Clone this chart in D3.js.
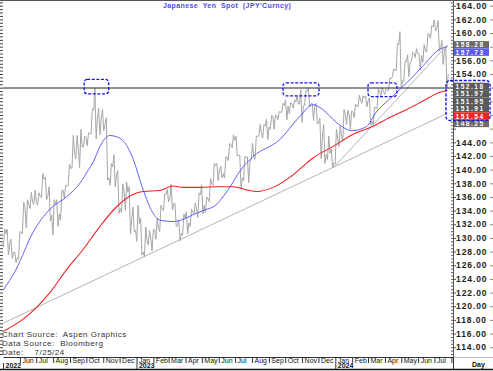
<!DOCTYPE html>
<html>
<head>
<meta charset="utf-8">
<script src="https://cdn.jsdelivr.net/npm/d3@7"></script>
<style>
  body { margin: 0; background: #fff; }
  svg { display: block; font-family: "Liberation Sans", Arial, sans-serif; }
  .pre { white-space: pre; }
</style>
</head>
<body>
<script>
// weekly USD/JPY bars, week of May 2 2022 .. week of Jul 22 2024
const wkHigh = [
  // 2022
  131.3, 131.3, 129.8, 127.9, 130.9, 135.2, 135.6, 136.7, 137.0, 136.6, 139.4, 138.9, 137.5,
  135.6, 135.6, 137.0, 137.7, 140.8, 145.0, 145.0, 145.9, 144.9, 145.4, 148.9, 151.95, 149.0, 148.8,
  147.6, 140.9, 142.2, 139.9, 137.9, 138.2, 137.5, 134.5,
  // 2023
  134.8, 132.9, 131.6, 131.1, 131.2, 132.9, 134.8, 136.5, 137.1, 137.9, 135.1, 132.6, 133.5,
  133.8, 134.2, 135.1, 136.6, 137.8, 136.0, 138.7, 140.9, 140.9, 140.5, 141.9, 143.8, 145.1,
  144.9, 142.1, 141.9, 141.9, 143.9, 144.9, 146.6, 146.6, 147.4, 147.9, 148.0, 148.5, 149.7,
  150.2, 149.8, 150.2, 150.8, 151.7, 151.6, 151.91, 149.7, 149.7, 147.5, 146.6, 144.9, 143.0,
  // 2024
  145.9, 146.4, 148.8, 148.7, 148.6, 149.6, 150.9, 150.8, 150.8, 150.5, 149.2, 151.8, 151.97,
  151.8, 153.4, 154.7, 158.4, 160.2, 155.9, 156.8, 157.2, 157.7, 157.0, 158.3, 159.9, 161.1,
  161.9, 161.8, 158.9, 157.9
];
const wkLow = [
  128.6, 127.5, 127.0, 126.4, 126.9, 130.6, 131.5, 134.3, 134.9, 134.8, 135.9, 135.6, 132.5,
  130.4, 131.7, 132.6, 135.8, 137.6, 140.2, 141.6, 140.3, 143.3, 143.5, 145.2, 144.5, 145.1, 145.7,
  138.5, 137.7, 137.5, 133.6, 133.7, 134.0, 130.6, 130.9,
  129.5, 127.5, 127.2, 129.0, 128.1, 129.8, 130.9, 134.0, 135.3, 134.1, 131.6, 129.6, 130.4,
  130.6, 131.7, 133.5, 133.0, 133.5, 133.7, 135.3, 137.7, 138.4, 138.8, 138.8, 141.3, 143.2,
  142.0, 137.2, 138.4, 138.1, 141.5, 141.5, 144.9, 144.6, 144.4, 145.9, 145.9, 147.3, 148.4,
  147.3, 148.2, 149.0, 149.6, 146.9, 149.4, 149.2, 147.2, 146.7, 141.6, 140.9, 141.5, 140.25,
  140.8, 143.4, 144.3, 146.6, 145.9, 147.6, 149.2, 149.7, 149.2, 146.5, 146.6, 148.9, 150.8,
  151.0, 151.6, 153.6, 154.5, 151.9, 152.9, 153.6, 155.9, 156.4, 154.6, 155.7, 157.2, 159.2,
  160.3, 157.4, 155.4, 151.9
];
const wkClose = [
  130.6, 129.2, 127.9, 127.1, 130.9, 134.4, 134.9, 135.2, 135.2, 136.1, 138.6, 136.1, 133.3,
  135.0, 133.5, 137.0, 137.6, 140.2, 142.5, 142.9, 143.3, 144.7, 145.3, 148.7, 147.6, 147.5, 146.6,
  138.8, 140.4, 139.2, 134.3, 136.6, 136.7, 132.8, 131.1,
  132.1, 127.9, 129.6, 129.9, 131.2, 131.4, 134.2, 136.4, 135.8, 135.0, 131.8, 130.7, 132.9,
  132.2, 133.8, 134.2, 136.3, 134.8, 135.7, 137.9, 140.6, 139.9, 139.4, 141.8, 143.7, 144.3,
  142.1, 138.8, 141.8, 141.2, 141.8, 144.9, 145.4, 146.4, 146.2, 147.8, 147.9, 148.4, 149.4,
  149.3, 149.6, 149.9, 149.6, 149.4, 151.5, 149.6, 149.4, 146.8, 144.9, 142.2, 142.4, 141.0,
  144.6, 144.9, 148.1, 148.1, 148.4, 149.3, 150.2, 150.5, 150.1, 147.1, 149.0, 151.4, 151.4,
  151.6, 153.3, 154.6, 158.3, 153.0, 155.8, 155.7, 157.0, 157.0, 156.7, 157.4, 159.8, 160.9,
  160.7, 157.9, 157.5, 153.9
];

// moving averages
const blueDates = ["2022-05-01","2022-05-25","2022-06-25","2022-07-26","2022-08-27","2022-09-20","2022-10-05",
  "2022-10-13","2022-10-26","2022-11-13","2022-11-26","2022-12-15","2022-12-26","2023-01-13","2023-01-31",
  "2023-02-13","2023-03-09","2023-03-27","2023-04-15","2023-05-10","2023-05-21","2023-06-22","2023-07-10",
  "2023-08-03","2023-09-21","2023-10-28","2023-11-21","2023-12-09","2024-01-03","2024-02-01","2024-02-27",
  "2024-03-16","2024-04-09","2024-05-11","2024-06-09","2024-07-10","2024-07-25"];
const blueValues = [122.3, 125.4, 130.8, 134.2, 136.1, 138.1, 140.0,
  141.0, 143.4, 145.0, 144.8, 143.4, 141.5, 137.1, 133.7,
  132.6, 132.4, 132.7, 133.4, 134.2, 134.5, 137.5, 139.8,
  141.9, 144.4, 147.8, 149.5, 148.8, 146.9, 145.7, 146.3,
  148.4, 150.3, 152.7, 155.1, 157.6, 158.0];

const redDates = ["2022-05-01","2022-06-07","2022-07-26","2022-08-26","2022-09-25","2022-10-26","2022-11-26",
  "2022-12-26","2023-01-13","2023-02-13","2023-03-09","2023-03-27","2023-04-28","2023-05-29","2023-06-27",
  "2023-07-28","2023-08-10","2023-09-09","2023-10-10","2023-11-10","2023-11-21","2023-12-28","2024-02-01",
  "2024-03-09","2024-04-09","2024-05-11","2024-06-09","2024-07-10","2024-07-25"];
const redValues = [116.3, 118.1, 122.0, 125.4, 128.3, 131.7, 134.6,
  136.4, 136.8, 136.95, 137.6, 137.4, 137.4, 137.5, 137.5,
  136.9, 136.8, 137.4, 138.9, 141.0, 141.7, 143.4, 145.1,
  146.3, 147.6, 148.8, 150.0, 151.3, 151.6];

// trend lines and level
const trendStart = ["2022-05-01", "2023-12-28"];
const trendStartValue = [117.5, 140.25];
const trendEnd = ["2024-07-25", "2024-07-25"];
const trendEndValue = [148.25, 158.28];
const levelValue = 151.95;

// dashed boxes around the tops
const boxFrom = ["2022-09-27", "2023-09-27", "2024-03-01"];
const boxTo = ["2022-11-11", "2023-12-02", "2024-04-23"];
const boxHigh = [153.2, 152.7, 152.7];
const boxLow = [151.1, 150.8, 150.7];

// right side value labels
const labelValues = [158.28, 157.73, 152.18, 151.97, 151.95, 151.91, 151.54, 148.25];
const labelKinds = ["trend", "blue", "level", "level", "level", "level", "red", "trend"];

const sourceLines = ["Chart Source:  Aspen Graphics", "Data Source:  Bloomberg", "Date:    7/25/24"];
const title = "Japanese  Yen  Spot  (JPY'Curncy)";

const width = 493, height = 371;
const plot = { left: 3, right: 453, top: 1, bottom: 357 };
const parse = d3.timeParse("%Y-%m-%d");

const svg = d3.select("body").append("svg")
    .attr("width", width)
    .attr("height", height);

const x = d3.scaleTime()
    .domain([new Date(2022, 4, 1), new Date(2024, 7, 4)])
    .range([plot.left, plot.right]);
const y = d3.scaleLinear()
    .domain([164, 114])
    .range([5.7, 347.2]);

svg.append("clipPath").attr("id", "clip")
  .append("rect")
    .attr("x", plot.left).attr("y", plot.top)
    .attr("width", plot.right - plot.left).attr("height", plot.bottom - plot.top);

const g = svg.append("g").attr("clip-path", "url(#clip)");

// trend lines
trendStart.forEach((d, i) => {
  g.append("line")
      .attr("x1", x(parse(d))).attr("y1", y(trendStartValue[i]))
      .attr("x2", x(parse(trendEnd[i]))).attr("y2", y(trendEndValue[i]))
      .attr("stroke", "#b4b4b4").attr("stroke-width", 1);
});

// price, zig-zag through each week's range
const weeks = d3.timeMonday.range(new Date(2022, 4, 2), new Date(2024, 6, 23));
const pts = [];
weeks.forEach((w, i) => {
  const xm = x(d3.timeDay.offset(w, 2));
  const prev = i ? wkClose[i - 1] : wkLow[i];
  if (wkClose[i] >= prev) {
    pts.push([xm - 1.3, wkLow[i]], [xm, wkHigh[i]], [xm + 1.3, wkClose[i]]);
  } else {
    pts.push([xm - 1.3, wkHigh[i]], [xm, wkLow[i]], [xm + 1.3, wkClose[i]]);
  }
});
g.append("path")
    .attr("d", d3.line().x(d => d[0]).y(d => y(d[1]))(pts))
    .attr("fill", "none")
    .attr("stroke", "#a6a6a6")
    .attr("stroke-width", 1);

// level line
g.append("line")
    .attr("x1", plot.left).attr("x2", plot.right)
    .attr("y1", y(levelValue)).attr("y2", y(levelValue))
    .attr("stroke", "#222").attr("stroke-width", 1);

// moving averages
const maLine = d3.line().curve(d3.curveMonotoneX).x(d => x(d[0])).y(d => y(d[1]));
g.append("path")
    .attr("d", maLine(redDates.map((d, i) => [parse(d), redValues[i]])))
    .attr("fill", "none").attr("stroke", "#ee2020").attr("stroke-width", 1.05);
g.append("path")
    .attr("d", maLine(blueDates.map((d, i) => [parse(d), blueValues[i]])))
    .attr("fill", "none").attr("stroke", "#5050f5").attr("stroke-width", 0.9);

// dashed boxes
boxFrom.forEach((d, i) => {
  svg.append("rect")
      .attr("x", x(parse(d))).attr("y", y(boxHigh[i]))
      .attr("width", x(parse(boxTo[i])) - x(parse(d)))
      .attr("height", y(boxLow[i]) - y(boxHigh[i]))
      .attr("rx", 3)
      .attr("fill", "none").attr("stroke", "#1515e8")
      .attr("stroke-width", 1.3).attr("stroke-dasharray", "3,1.6");
});

// value label positions, pushed apart downward
const gap = 7.4;
const ly = [];
labelValues.forEach((v, i) => {
  let p = y(v);
  if (i && p < ly[i - 1] + gap) p = ly[i - 1] + gap;
  ly.push(p);
});

// right axis; tick labels hidden where a value label covers them
const covered = v => ly.some(p => Math.abs(p - y(v)) < 7.5);
const yAxis = svg.append("g")
    .attr("transform", `translate(${plot.right},0)`)
    .call(d3.axisRight(y).tickValues(d3.range(114, 165, 2))
      .tickFormat(v => covered(v) ? "" : d3.format(".2f")(v))
      .tickSize(3).tickPadding(0));
yAxis.select(".domain").attr("stroke", "#555").attr("d", `M0.5,${plot.top}V${plot.bottom}`);
yAxis.selectAll(".tick line").attr("stroke", "#555");
yAxis.selectAll(".tick text")
    .attr("fill", "#222").attr("font-size", 8.5).attr("font-weight", "bold")
    .attr("letter-spacing", 0.9).attr("font-family", "Liberation Sans, Arial, sans-serif");
svg.append("g")
    .attr("transform", `translate(${plot.right},0)`)
    .call(d3.axisLeft(y).tickValues(d3.range(113, 165, 0.5)).tickFormat("").tickSize(2).tickSizeOuter(0))
    .call(a => a.select(".domain").remove())
    .selectAll("line").attr("stroke", "#666");
svg.append("g")
    .attr("transform", `translate(${plot.left},0)`)
    .call(d3.axisLeft(y).tickValues(d3.range(113, 165, 0.5)).tickFormat("").tickSize(3).tickSizeOuter(0))
    .call(a => a.select(".domain").remove())
    .selectAll("line").attr("stroke", "#444");
svg.append("g")
    .attr("transform", `translate(${width},0)`)
    .call(d3.axisLeft(y).tickValues(d3.range(114, 165, 2)).tickFormat("").tickSize(3).tickSizeOuter(0))
    .call(a => a.select(".domain").remove())
    .selectAll("line").attr("stroke", "#888");

// value labels
const kindFill = { trend: "#6a6a6a", level: "#5a5a5a", blue: "#5a5af0", red: "#f02424" };
const lab = svg.append("g").selectAll("g").data(labelValues).join("g")
    .attr("transform", (d, i) => `translate(${plot.right + 1},${ly[i]})`);
lab.append("rect")
    .attr("x", 0).attr("y", -3.7).attr("width", 35).attr("height", 7.4)
    .attr("fill", (d, i) => kindFill[labelKinds[i]]);
lab.append("text")
    .attr("x", 1.5).attr("y", 2.5)
    .attr("fill", "#fff").attr("font-size", 6.6).attr("font-weight", "bold")
    .attr("letter-spacing", 1.5)
    .text(d => d3.format(".2f")(d));

const firstLevel = labelKinds.indexOf("level");
const redIdx = labelKinds.indexOf("red");
svg.append("rect")
    .attr("x", plot.right - 7).attr("y", ly[firstLevel] - 6)
    .attr("width", 44).attr("height", ly[redIdx] - ly[firstLevel] + 10.5)
    .attr("rx", 4)
    .attr("fill", "none").attr("stroke", "#1515e8")
    .attr("stroke-width", 1.4).attr("stroke-dasharray", "3,1.6");

// month / year band
const months = d3.timeMonth.range(new Date(2022, 5, 1), new Date(2024, 7, 2));
const last = months[months.length - 1];
const xAxis = svg.append("g")
    .attr("transform", `translate(0,${plot.bottom})`)
    .call(d3.axisBottom(x).tickValues(months)
      .tickFormat(d => +d === +last ? "" : d3.timeFormat("%b")(d))
      .tickSizeInner(6).tickSizeOuter(0));
xAxis.select(".domain").attr("stroke", "#333");
xAxis.selectAll(".tick line").attr("stroke", "#333");
xAxis.selectAll(".tick text")
    .attr("x", 2).attr("y", 0.6).attr("dy", "0.71em")
    .attr("text-anchor", "start").attr("fill", "#111")
    .attr("font-size", 7).attr("font-family", "Liberation Sans, Arial, sans-serif");

const years = [new Date(2022, 4, 1), new Date(2023, 0, 1), new Date(2024, 0, 1)];
const yrAxis = svg.append("g")
    .attr("transform", `translate(0,${plot.bottom + 6})`)
    .call(d3.axisBottom(x).tickValues(years).tickFormat(d3.timeFormat("%Y"))
      .tickSizeInner(6).tickSizeOuter(0));
yrAxis.select(".domain").remove();
yrAxis.selectAll(".tick line").attr("stroke", "#333");
yrAxis.selectAll(".tick text")
    .attr("x", 2).attr("y", 0.3).attr("dy", "0.71em")
    .attr("text-anchor", "start").attr("fill", "#111")
    .attr("font-size", 7).attr("font-weight", "bold")
    .attr("font-family", "Liberation Sans, Arial, sans-serif");

// frame bits
svg.append("line").attr("x1", plot.right).attr("x2", width).attr("y1", plot.bottom + 0.5).attr("y2", plot.bottom + 0.5)
    .attr("stroke", "#bbb");
svg.append("line").attr("x1", plot.right + 0.5).attr("x2", plot.right + 0.5).attr("y1", plot.bottom).attr("y2", height - 1)
    .attr("stroke", "#333");
svg.append("line").attr("x1", 0).attr("x2", width).attr("y1", height - 1.5).attr("y2", height - 1.5)
    .attr("stroke", "#111").attr("stroke-width", 1.5);
svg.append("line").attr("x1", 0).attr("x2", width).attr("y1", 0.5).attr("y2", 0.5)
    .attr("stroke", "#555");
svg.append("text").attr("x", 472).attr("y", 366.5)
    .attr("font-size", 7).attr("font-weight", "bold").attr("fill", "#111").text("Day");

// title
svg.append("text").attr("class", "pre")
    .attr("x", 163).attr("y", 8)
    .attr("font-size", 7).attr("font-weight", "bold").attr("letter-spacing", 0.4)
    .attr("fill", "#4b4bf0")
    .text(title);

// source notes
svg.append("g").selectAll("text").data(sourceLines).join("text")
    .attr("class", "pre")
    .attr("x", 2).attr("y", (d, i) => 336.5 + i * 9)
    .attr("font-size", 8).attr("letter-spacing", 0.5).attr("fill", "#333")
    .text(d => d);
</script>
</body>
</html>
